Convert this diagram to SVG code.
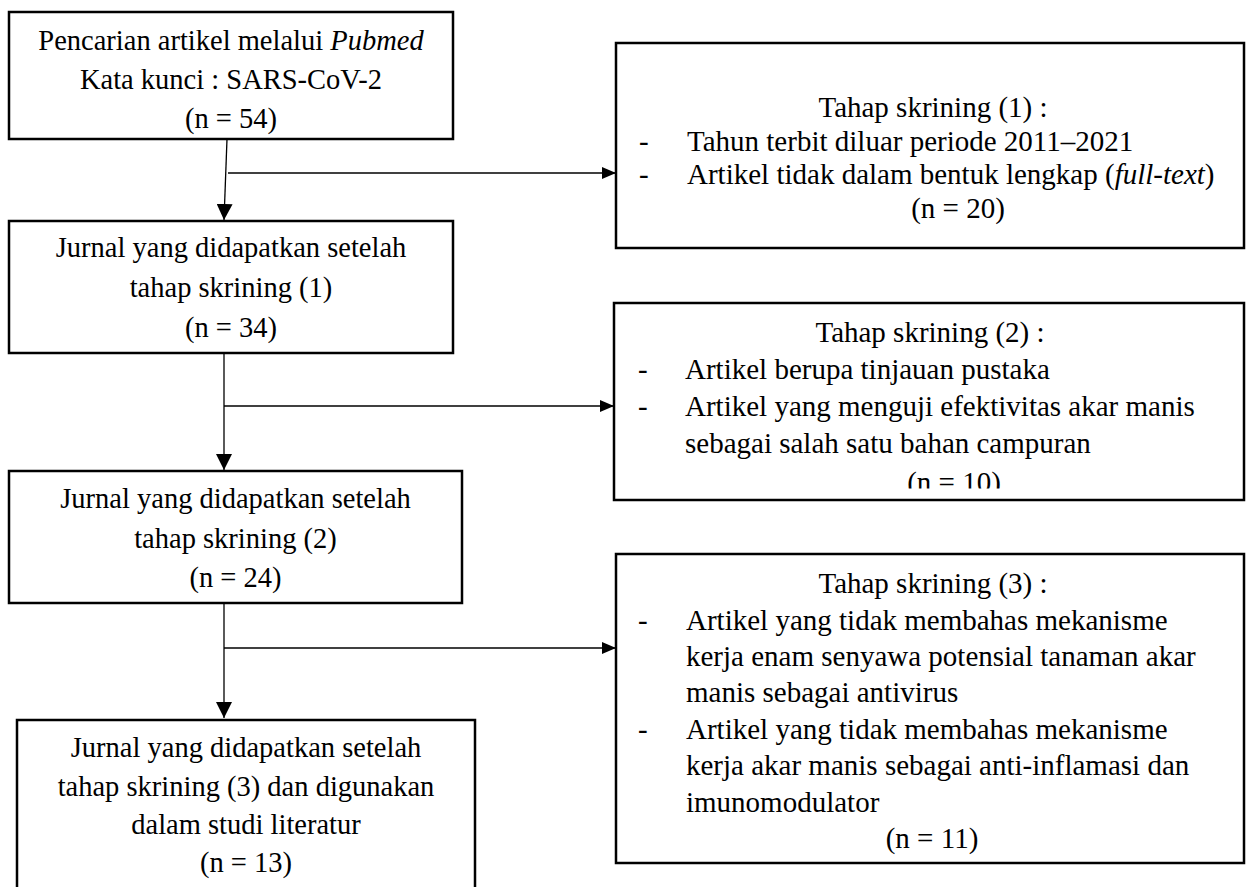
<svg xmlns="http://www.w3.org/2000/svg" width="1246" height="887" viewBox="0 0 1246 887">
<style>
.box{fill:#fff;stroke:#000;stroke-width:2.5}
.ln{fill:none;stroke:#000;stroke-width:1.3}
text{font-family:"Liberation Serif","Times New Roman",serif;fill:#000}
.l{font-size:28.5px;text-anchor:middle}
.r{font-size:29px}
.c{text-anchor:middle}
.i{font-style:italic}
</style>
<defs>
<marker id="av" viewBox="0 0 16 16" markerWidth="16" markerHeight="16" refX="16" refY="8" orient="auto" markerUnits="userSpaceOnUse"><path d="M0,0 L16,8 L0,16 Z" fill="#000"/></marker>
<marker id="ah" viewBox="0 0 14 12" markerWidth="14" markerHeight="12" refX="14" refY="6" orient="auto" markerUnits="userSpaceOnUse"><path d="M0,0 L14,6 L0,12 Z" fill="#000"/></marker>
<clipPath id="cl10"><rect x="616" y="300" width="628" height="188.5"/></clipPath>
</defs>
<rect width="1246" height="887" fill="#fff"/>

<g id="connectors">
<path class="ln" d="M227,139 L224,220" marker-end="url(#av)"/>
<path class="ln" d="M228,173 L616,173" marker-end="url(#ah)"/>
<path class="ln" d="M224,353 L224,470" marker-end="url(#av)"/>
<path class="ln" d="M224,406 L614,406" marker-end="url(#ah)"/>
<path class="ln" d="M224,603 L224,718" marker-end="url(#av)"/>
<path class="ln" d="M224,648 L616,648" marker-end="url(#ah)"/>
</g>

<g id="n1">
<rect class="box" x="9" y="12" width="444" height="127"/>
<text class="l" x="231" y="50">Pencarian artikel melalui <tspan class="i">Pubmed</tspan></text>
<text class="l" x="231" y="89">Kata kunci : SARS-CoV-2</text>
<text class="l" x="231" y="128">(n = 54)</text>
</g>

<g id="n2">
<rect class="box" x="9" y="221" width="444" height="132"/>
<text class="l" x="231" y="257">Jurnal yang didapatkan setelah</text>
<text class="l" x="231" y="297">tahap skrining (1)</text>
<text class="l" x="231" y="337">(n = 34)</text>
</g>

<g id="n3">
<rect class="box" x="9" y="471" width="453" height="132"/>
<text class="l" x="235.5" y="508">Jurnal yang didapatkan setelah</text>
<text class="l" x="235.5" y="547.5">tahap skrining (2)</text>
<text class="l" x="235.5" y="587">(n = 24)</text>
</g>

<g id="n4">
<rect class="box" x="17" y="720" width="458" height="190"/>
<text class="l" x="246" y="757">Jurnal yang didapatkan setelah</text>
<text class="l" x="246" y="795.5">tahap skrining (3) dan digunakan</text>
<text class="l" x="246" y="834">dalam studi literatur</text>
<text class="l" x="246" y="872">(n = 13)</text>
</g>

<g id="s1">
<rect class="box" x="616" y="43" width="628" height="205"/>
<text class="r c" x="933" y="117">Tahap skrining (1) :</text>
<text class="r" x="639" y="150.5">-</text>
<text class="r" x="687" y="150.5">Tahun terbit diluar periode 2011–2021</text>
<text class="r" x="639" y="184">-</text>
<text class="r" x="687" y="184">Artikel tidak dalam bentuk lengkap (<tspan class="i">full-text</tspan>)</text>
<text class="r c" x="958" y="217.5">(n = 20)</text>
</g>

<g id="s2">
<rect class="box" x="614" y="303" width="630" height="197"/>
<text class="r c" x="930" y="342">Tahap skrining (2) :</text>
<text class="r" x="638" y="379">-</text>
<text class="r" x="685" y="379">Artikel berupa tinjauan pustaka</text>
<text class="r" x="638" y="416">-</text>
<text class="r" x="685" y="416">Artikel yang menguji efektivitas akar manis</text>
<text class="r" x="685" y="453">sebagai salah satu bahan campuran</text>
<text class="r c" x="954" y="492" clip-path="url(#cl10)">(n = 10)</text>
</g>

<g id="s3">
<rect class="box" x="616" y="554" width="628" height="309"/>
<text class="r c" x="933" y="593">Tahap skrining (3) :</text>
<text class="r" x="638" y="629.5">-</text>
<text class="r" x="686" y="629.5">Artikel yang tidak membahas mekanisme</text>
<text class="r" x="686" y="666">kerja enam senyawa potensial tanaman akar</text>
<text class="r" x="686" y="702">manis sebagai antivirus</text>
<text class="r" x="638" y="738.5">-</text>
<text class="r" x="686" y="738.5">Artikel yang tidak membahas mekanisme</text>
<text class="r" x="686" y="775">kerja akar manis sebagai anti-inflamasi dan</text>
<text class="r" x="686" y="811.5">imunomodulator</text>
<text class="r c" x="932" y="848">(n = 11)</text>
</g>
</svg>
